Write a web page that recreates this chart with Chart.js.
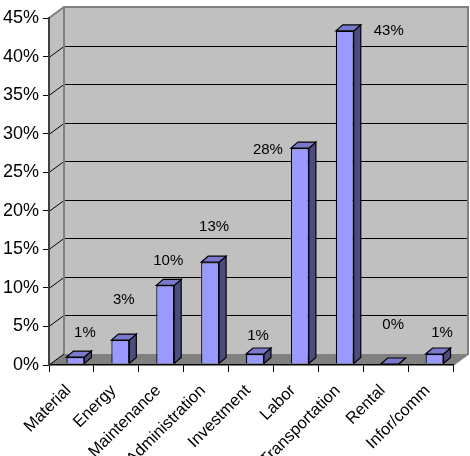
<!DOCTYPE html>
<html><head><meta charset="utf-8">
<script src="https://cdn.jsdelivr.net/npm/chart.js@4/dist/chart.umd.min.js"></script>
<style>html,body{margin:0;padding:0;background:#fff}</style>
</head><body>
<canvas id="c" width="470" height="456"></canvas>
<script>
const categories = ['Material','Energy','Maintenance','Administration','Investment','Labor','Transportation','Rental','Infor/comm'];
const shares = [0.9, 3.1, 10.2, 13.2, 1.3, 28.0, 43.2, 0, 1.3];
const yTickValues = [0, 5, 10, 15, 20, 25, 30, 35, 40, 45];
const yTickLabels = ['0%','5%','10%','15%','20%','25%','30%','35%','40%','45%'];

// styling / placement (not data)
const DEPTH = {dx: 15, dy: -11};      // wall depth
const BAR_DEPTH = {dx: 7, dy: -6};    // bar depth
const BAR_SHIFT = {dx: 4, dy: -1};
const LABEL_OFFSETS = [[9.5,-24],[3.5,-40],[3,-24],[4,-35],[3,-18],[-32,2],[44,0],[3.5,-39],[7.5,-21]];
const FONT = '"Liberation Sans", Arial, sans-serif';

function poly(ctx, pts){ctx.beginPath();ctx.moveTo(pts[0][0],pts[0][1]);for(let i=1;i<pts.length;i++)ctx.lineTo(pts[i][0],pts[i][1]);ctx.closePath();}

const wallsPlugin = {
  id: 'walls',
  beforeDraw(chart){
    const {ctx, chartArea:a, scales:{y}} = chart;
    const dx = DEPTH.dx, dy = DEPTH.dy;
    ctx.save();
    ctx.fillStyle = '#c0c0c0';
    ctx.fillRect(a.left+dx, a.top+dy, a.right-a.left, a.bottom-a.top);
    poly(ctx, [[a.left,a.bottom],[a.left,a.top],[a.left+dx,a.top+dy],[a.left+dx,a.bottom+dy]]);
    ctx.fill();
    ctx.fillStyle = '#808080';
    poly(ctx, [[a.left,a.bottom],[a.left+dx,a.bottom+dy],[a.right+dx,a.bottom+dy],[a.right,a.bottom]]);
    ctx.fill();
    ctx.strokeStyle = '#000'; ctx.lineWidth = 1;
    yTickValues.forEach(v => {
      if (v === 0 || v === yTickValues[yTickValues.length-1]) return;
      const py = Math.round(y.getPixelForValue(v)) + 0.5;
      ctx.beginPath();
      ctx.moveTo(a.left, py); ctx.lineTo(a.left+dx, py+dy); ctx.lineTo(a.right+dx, py+dy);
      ctx.stroke();
    });
    ctx.beginPath(); ctx.moveTo(a.left, a.bottom); ctx.lineTo(a.left+dx, a.bottom+dy); ctx.stroke();
    ctx.strokeStyle = '#808080'; ctx.lineWidth = 2;
    ctx.beginPath();
    ctx.moveTo(a.left, a.top); ctx.lineTo(a.left+dx, a.top+dy); ctx.lineTo(a.right+dx, a.top+dy);
    ctx.lineTo(a.right+dx, a.bottom+dy); ctx.lineTo(a.right, a.bottom);
    ctx.moveTo(a.left+dx, a.top+dy); ctx.lineTo(a.left+dx, a.bottom+dy);
    ctx.stroke();
    ctx.restore();
  },
  beforeDatasetsDraw(chart){
    chart.ctx.save();
    chart.ctx.translate(BAR_SHIFT.dx, BAR_SHIFT.dy);
  },
  afterDatasetsDraw(chart){
    const ctx = chart.ctx;
    const meta = chart.getDatasetMeta(0);
    meta.data.forEach(el => {
      const p = el.getProps(['x','y','base','width'], true);
      const l = p.x - p.width/2, r = p.x + p.width/2, t = Math.min(p.y,p.base), b = p.base;
      const dx = BAR_DEPTH.dx, dy = BAR_DEPTH.dy;
      ctx.lineWidth = 1.2; ctx.strokeStyle = '#000';
      ctx.fillStyle = '#4c4c80';
      poly(ctx, [[r,t],[r+dx,t+dy],[r+dx,b+dy],[r,b]]); ctx.fill(); ctx.stroke();
      ctx.fillStyle = '#7a7acc';
      poly(ctx, [[l,t],[l+dx,t+dy],[r+dx,t+dy],[r,t]]); ctx.fill(); ctx.stroke();
    });
    ctx.restore();
    ctx.save();
    ctx.font = '15px ' + FONT;
    ctx.fillStyle = '#000';
    ctx.textAlign = 'center'; ctx.textBaseline = 'middle';
    meta.data.forEach((el, i) => {
      const p = el.getProps(['x','y'], true);
      const off = LABEL_OFFSETS[i];
      ctx.fillText(Math.round(shares[i]) + '%', p.x + BAR_SHIFT.dx + off[0], p.y + BAR_SHIFT.dy + off[1]);
    });
    ctx.restore();
  }
};

new Chart(document.getElementById('c'), {
  type: 'bar',
  data: {
    labels: categories,
    datasets: [{
      data: shares,
      backgroundColor: '#9999ff',
      borderColor: '#000',
      borderWidth: 1.2,
      categoryPercentage: 1,
      barPercentage: 0.4
    }]
  },
  options: {
    responsive: false,
    animation: false,
    devicePixelRatio: 1,
    layout: {padding: {top: 18, right: 17, left: 0, bottom: 0}},
    plugins: {legend: {display: false}, tooltip: {enabled: false}},
    scales: {
      x: {
        offset: true,
        grid: {display: true, drawOnChartArea: false, drawTicks: true, tickLength: 7, color: '#000', offset: true},
        border: {display: true, color: '#000', width: 1.5},
        ticks: {autoSkip: false, minRotation: 45, maxRotation: 45, color: '#000', font: {family: FONT, size: 16.5}, padding: 9, labelOffset: -3},
        afterFit(s){ s.height = 91; }
      },
      y: {
        min: 0, max: 45,
        afterBuildTicks(s){ s.ticks = yTickValues.map(v => ({value: v})); },
        grid: {display: true, drawOnChartArea: false, drawTicks: true, tickLength: 6, color: '#000'},
        border: {display: true, color: '#404040', width: 2},
        ticks: {color: '#000', font: {family: FONT, size: 18}, padding: 4,
          callback: (v) => yTickLabels[yTickValues.indexOf(v)]},
        afterFit(s){ s.width = 49; }
      }
    }
  },
  plugins: [wallsPlugin]
});
</script>
</body></html>
